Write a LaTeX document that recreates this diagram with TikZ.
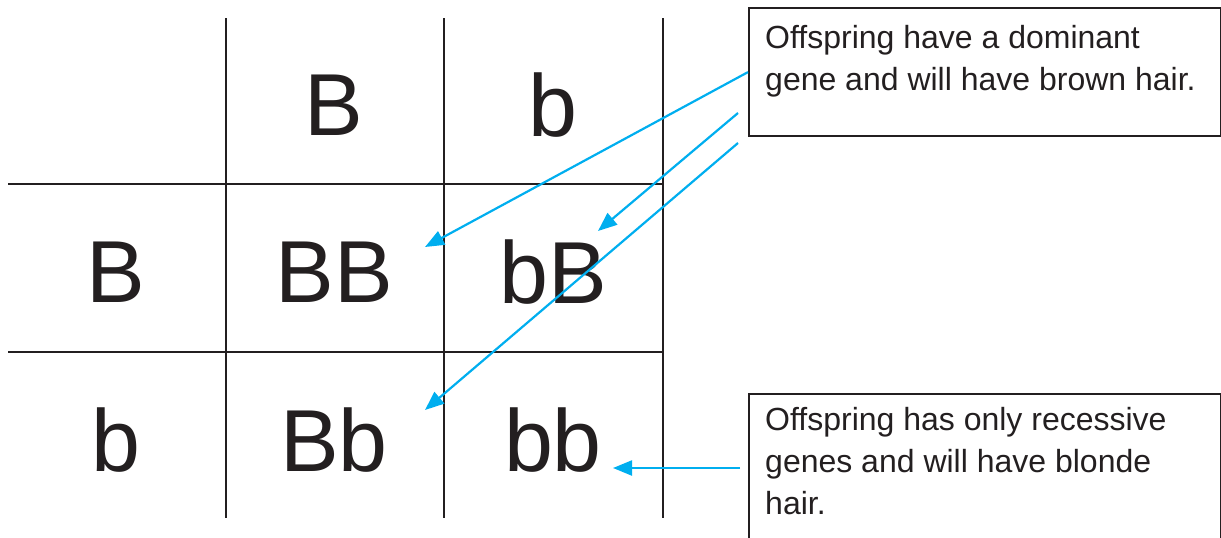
\documentclass[tikz,border=0pt]{standalone}
\usepackage{fontspec}
\setmainfont{Liberation Sans}
\usetikzlibrary{arrows.meta}
\definecolor{gridc}{HTML}{231F20}
\definecolor{arrc}{HTML}{00AEEF}
\tikzset{
  gridline/.style={draw=gridc, line width=2.2pt},
  big/.style={font=\fontsize{88}{92}\selectfont, text=gridc, inner sep=0pt},
  note/.style={draw=gridc, line width=2.2pt, fill=none},
  txt/.style={font=\fontsize{32}{42}\selectfont, text=gridc, inner sep=0pt, align=left, anchor=north west},
  pointer/.style={draw=arrc, line width=2.2pt, -{Triangle[length=19pt,width=15pt]}}
}
\begin{document}
\begin{tikzpicture}[x=1pt,y=-1pt]
\useasboundingbox (0,0) rectangle (1221,538);
% grid
\draw[gridline] (226,18) -- (226,518);
\draw[gridline] (444,18) -- (444,518);
\draw[gridline] (663,18) -- (663,518);
\draw[gridline] (8,184) -- (663,184);
\draw[gridline] (8,352) -- (663,352);
% cell texts
\node[big] (hB) at (334,105) {B};
\node[big] (hb) at (553,105) {b};
\node[big] (vB) at (116,272) {B};
\node[big] (vb) at (116,440) {b};
\node[big] (BB) at (334,272) {BB};
\node[big] (bB) at (553,272) {bB};
\node[big] (Bb) at (334,440) {Bb};
\node[big] (bb) at (553,440) {bb};
% note boxes
\node[note, minimum width=472pt, minimum height=128pt, anchor=north west] (top) at (748,7) {};
\node[txt] (toptext) at (765,25) {Offspring have a dominant\\gene and will have brown hair.};
\node[note, minimum width=472pt, minimum height=160pt, anchor=north west] (bot) at (748,393) {};
\node[txt] (bottext) at (765,407) {Offspring has only recessive\\genes and will have blonde\\hair.};
% arrow targets and sources
\coordinate (tBB) at (425,247);
\coordinate (tbB) at (598,231);
\coordinate (tBb) at (425,410);
\coordinate (tbb) at (613,468);
\coordinate (s2) at (738,113);
\coordinate (s3) at (738,143);
\coordinate (s4) at (740,468);
\draw[pointer] (top.west) -- (tBB);
\draw[pointer] (s2) -- (tbB);
\draw[pointer] (s3) -- (tBb);
\draw[pointer] (s4) -- (tbb);
\end{tikzpicture}
\end{document}
